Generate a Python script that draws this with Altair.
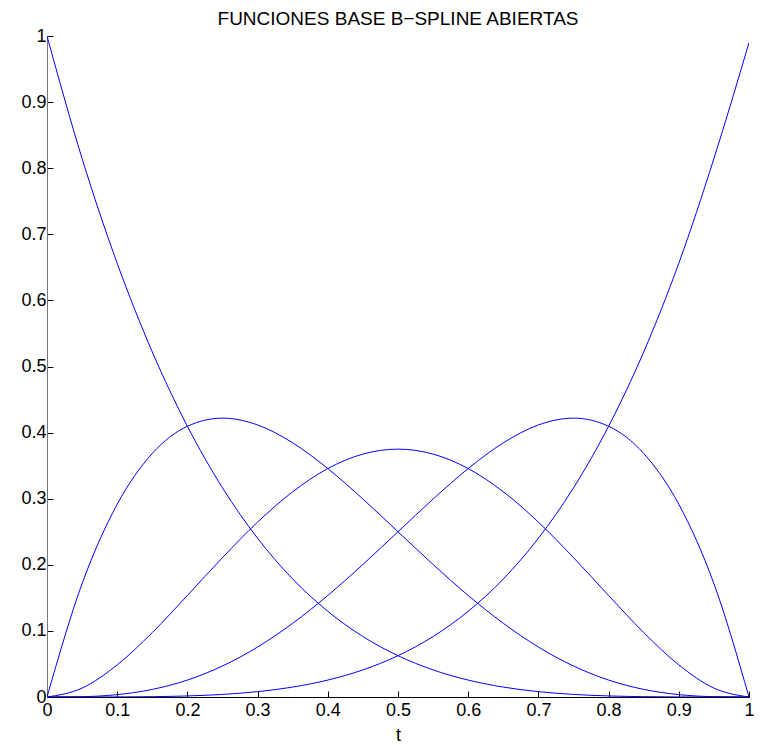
import altair as alt
import pandas as pd

# parameter values t read along the x axis
t_vals = [0.00, 0.05, 0.10, 0.15, 0.20, 0.25, 0.30, 0.35, 0.40, 0.45, 0.50,
          0.55, 0.60, 0.65, 0.70, 0.75, 0.80, 0.85, 0.90, 0.95, 1.00]

# basis function values
n0 = [1.0, 0.8145, 0.6561, 0.522, 0.4096, 0.3164, 0.2401, 0.1785, 0.1296, 0.0915, 0.0625,
      0.041, 0.0256, 0.015, 0.0081, 0.0039, 0.0016, 0.0005, 0.0001, 0.0, 0.0]
n1 = [0.0, 0.1715, 0.2916, 0.3685, 0.4096, 0.4219, 0.4116, 0.3845, 0.3456, 0.2995, 0.25,
      0.2005, 0.1536, 0.1115, 0.0756, 0.0469, 0.0256, 0.0115, 0.0036, 0.0005, 0.0]
n2 = [0.0, 0.0135, 0.0486, 0.0975, 0.1536, 0.2109, 0.2646, 0.3105, 0.3456, 0.3675, 0.375,
      0.3675, 0.3456, 0.3105, 0.2646, 0.2109, 0.1536, 0.0975, 0.0486, 0.0135, 0.0]
n3 = [0.0, 0.0005, 0.0036, 0.0115, 0.0256, 0.0469, 0.0756, 0.1115, 0.1536, 0.2005, 0.25,
      0.2995, 0.3456, 0.3845, 0.4116, 0.4219, 0.4096, 0.3685, 0.2916, 0.1715, 0.0]
n4 = [0.0, 0.0, 0.0001, 0.0005, 0.0016, 0.0039, 0.0081, 0.015, 0.0256, 0.041, 0.0625,
      0.0915, 0.1296, 0.1785, 0.2401, 0.3164, 0.4096, 0.522, 0.6561, 0.8145, 0.99]

x_ticks = [0, 0.1, 0.2, 0.3, 0.4, 0.5, 0.6, 0.7, 0.8, 0.9, 1]
y_ticks = [0, 0.1, 0.2, 0.3, 0.4, 0.5, 0.6, 0.7, 0.8, 0.9, 1]

title_text = "FUNCIONES BASE B\u2212SPLINE ABIERTAS"

rows = []
for name, vals in [("N0", n0), ("N1", n1), ("N2", n2), ("N3", n3), ("N4", n4)]:
    for t, v in zip(t_vals, vals):
        rows.append({"curve": name, "t": t, "value": v})
df = pd.DataFrame(rows)

FONT = "Liberation Sans"
FS = 18

label_expr = "datum.value == 0 ? '0' : datum.value == 1 ? '1' : format(datum.value, '.1f')"

chart = alt.Chart(df).mark_line(
    color="#0000ff", strokeWidth=1, interpolate="monotone", clip=True
).encode(
    x=alt.X("t:Q", scale=alt.Scale(domain=[0, 1], nice=False, zero=False),
            axis=alt.Axis(values=x_ticks, title="t", grid=False,
                          tickSize=alt.ExprRef(expr="-6"), tickColor="#000000",
                          domainColor="#000000", labelPadding=10,
                          labelFont=FONT, labelFontSize=FS, labelColor="#000000",
                          titleFont=FONT, titleFontSize=FS, titleFontWeight="normal",
                          titleColor="#000000", titlePadding=7,
                          labelExpr=label_expr,
                          labelFlush=False, labelOverlap=False)),
    y=alt.Y("value:Q", scale=alt.Scale(domain=[0, 1], nice=False, zero=False),
            axis=alt.Axis(values=y_ticks, title=None, grid=False,
                          tickSize=alt.ExprRef(expr="-6"), tickColor="#000000",
                          domainColor="#777777", labelPadding=7,
                          labelFont=FONT, labelFontSize=FS, labelColor="#000000",
                          labelExpr=label_expr,
                          labelFlush=False, labelOverlap=False)),
    detail="curve:N",
).properties(
    width=702,
    height=661,
    title=alt.TitleParams(title_text, font=FONT, fontSize=19, fontWeight="normal",
                          color="#000000", anchor="middle", offset=0, dy=2),
    autosize=alt.AutoSizeParams(type="none"),
    padding={"left": 39, "top": 28, "right": 5, "bottom": 46},
).configure(
    background="#ffffff",
    view=alt.ViewConfig(stroke=None),
)

chart.save("out.html", embed_options={"renderer": "svg", "actions": False})
